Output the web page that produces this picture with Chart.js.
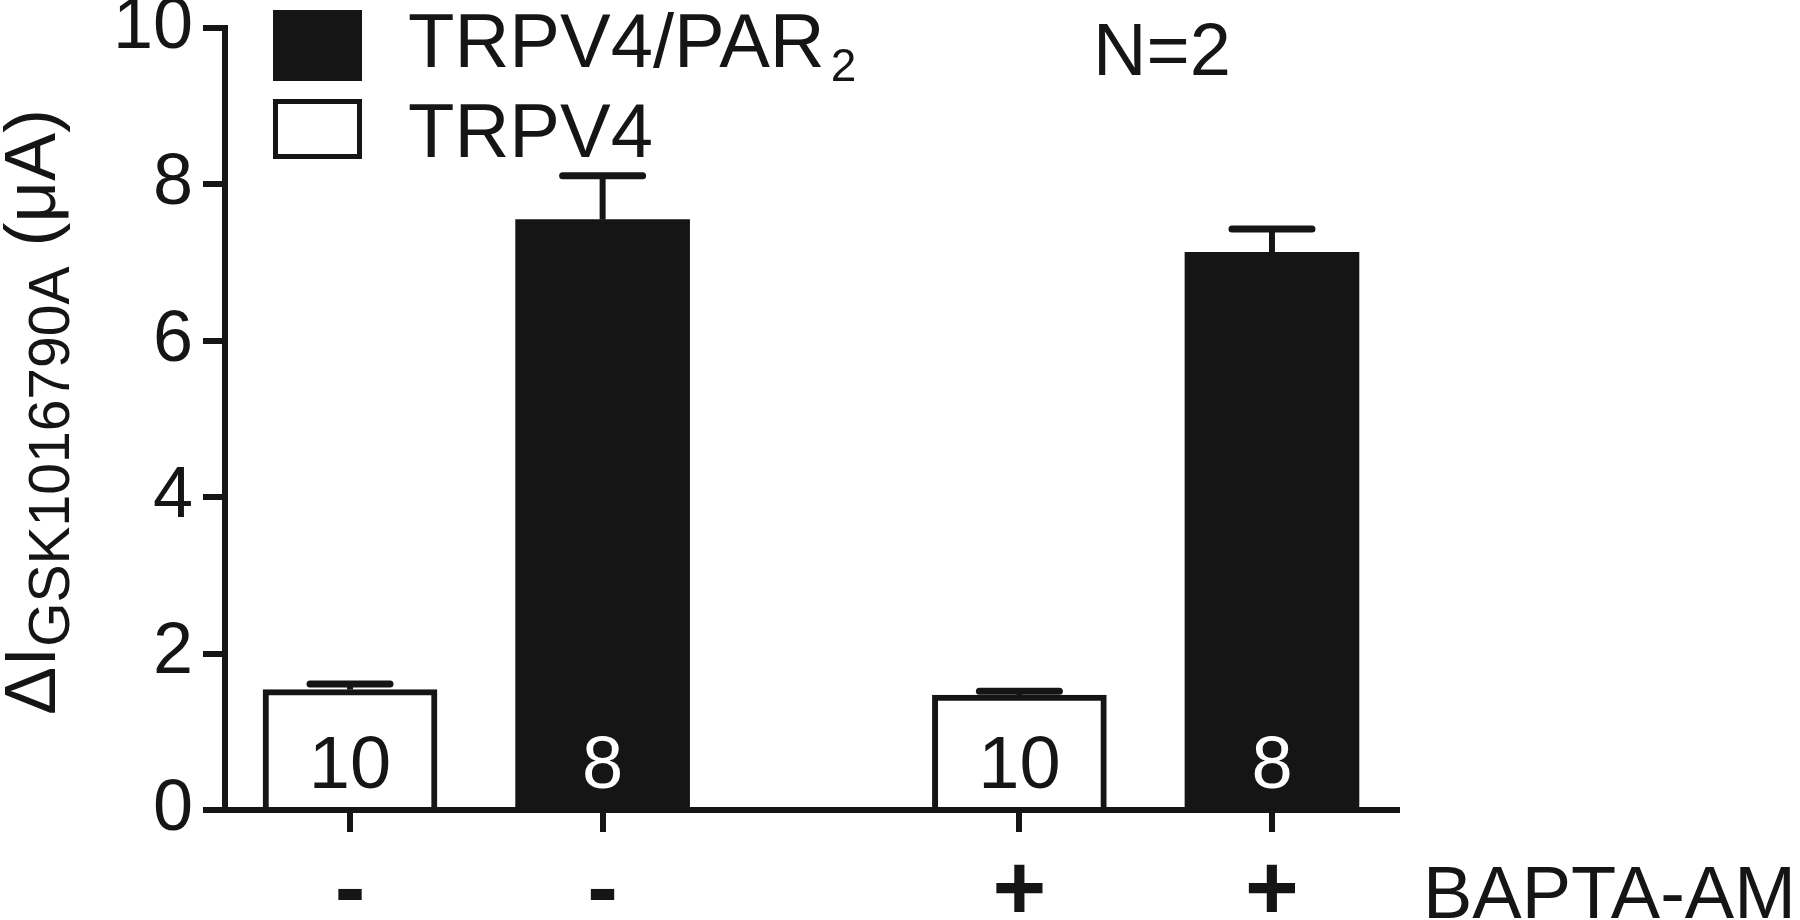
<!DOCTYPE html>
<html><head><meta charset="utf-8">
<script src="https://cdn.jsdelivr.net/npm/chart.js@4/dist/chart.umd.min.js"></script>
<style>html,body{margin:0;padding:0;background:#fff;}#wrap{width:1800px;height:920px;position:relative;}</style>
</head><body><div id="wrap"><canvas id="c" width="1800" height="920"></canvas></div>
<script>
// ---- data ----
const groups = ['-', '+'];                 // BAPTA-AM treatment
const seriesNames = ['TRPV4', 'TRPV4/PAR2'];
const trpv4Mean = [1.54, 1.47];
const trpv4Sem  = [0.07, 0.05];
const trpv4N    = [10, 10];
const par2Mean  = [7.55, 7.13];
const par2Sem   = [0.56, 0.30];
const par2N     = [8, 8];
const yTicks    = [0, 2, 4, 6, 8, 10];
const xTitle    = 'BAPTA-AM';
const yTitleMain = 'ΔI', yTitleSub = 'GSK1016790A', yTitleUnit = ' (μA)';
const noteText  = 'N=2';

// ---- layout helpers ----
const INK = '#151515';
const FONT = "'Liberation Sans', Arial, Helvetica, sans-serif";
const groupStep = 2.65;
const slot = (g, s) => 1 + s + g * groupStep;
const tickValues = [], tickLabels = [];
groups.forEach((g, gi) => { [0, 1].forEach(s => { tickValues.push(slot(gi, s)); tickLabels.push(g); }); });

const whiteData = trpv4Mean.map((v, i) => ({ x: slot(i, 0), y: v }));
const blackData = par2Mean.map((v, i) => ({ x: slot(i, 1), y: v }));

const overlay = {
  id: 'overlay',
  afterDatasetsDraw(chart) {
    const ctx = chart.ctx, ys = chart.scales.y;
    chart.data.datasets.forEach((ds, di) => {
      const meta = chart.getDatasetMeta(di);
      meta.data.forEach((bar, i) => {
        const top = ys.getPixelForValue(ds.data[i].y + ds.errors[i]);
        ctx.save();
        ctx.strokeStyle = INK;
        ctx.lineWidth = 6; ctx.lineCap = 'butt';
        ctx.beginPath(); ctx.moveTo(bar.x, bar.y); ctx.lineTo(bar.x, top); ctx.stroke();
        ctx.lineWidth = 7; ctx.lineCap = 'round';
        ctx.beginPath(); ctx.moveTo(bar.x - 40, top); ctx.lineTo(bar.x + 40, top); ctx.stroke();
        // n inside bar
        ctx.fillStyle = ds.labelColor;
        ctx.font = '74px ' + FONT;
        ctx.textAlign = 'center'; ctx.textBaseline = 'alphabetic';
        ctx.fillText(String(ds.counts[i]), bar.x, ys.getPixelForValue(0) - 22);
        ctx.restore();
      });
    });
  },
  afterDraw(chart) {
    const ctx = chart.ctx;
    ctx.save();
    ctx.fillStyle = INK; ctx.strokeStyle = INK;
    // legend
    ctx.fillRect(273, 10, 89, 71);
    ctx.lineWidth = 5;
    ctx.strokeRect(275.5, 101.5, 84, 55);
    ctx.textAlign = 'left'; ctx.textBaseline = 'alphabetic';
    const m = /^(.*PAR)(\d)$/.exec(seriesNames[1]);
    ctx.font = '76px ' + FONT;
    ctx.fillText(m[1], 408, 67);
    const w = ctx.measureText(m[1]).width;
    ctx.font = '46px ' + FONT;
    ctx.fillText(m[2], 408 + w + 6, 81);
    ctx.font = '76px ' + FONT;
    ctx.fillText(seriesNames[0], 408, 157);
    // note
    ctx.font = '74px ' + FONT;
    ctx.fillText(noteText, 1093, 75);
    // x title
    ctx.fillText(xTitle, 1423, 918);
    // y title (rotated, with subscript)
    const mainF = '72px ' + FONT, subF = '57px ' + FONT;
    ctx.font = mainF; const w1 = ctx.measureText(yTitleMain).width, w3 = ctx.measureText(yTitleUnit).width;
    ctx.font = subF; const w2 = ctx.measureText(yTitleSub).width;
    const total = w1 + w2 + w3;
    ctx.translate(55, 412); ctx.rotate(-Math.PI / 2);
    let x = -total / 2;
    ctx.font = mainF; ctx.fillText(yTitleMain, x, 0); x += w1;
    ctx.font = subF; ctx.fillText(yTitleSub, x, 14); x += w2;
    ctx.font = mainF; ctx.fillText(yTitleUnit, x, 0);
    ctx.restore();
  }
};

new Chart(document.getElementById('c'), {
  type: 'bar',
  data: {
    datasets: [
      { label: seriesNames[0], data: whiteData, errors: trpv4Sem, counts: trpv4N, labelColor: INK,
        backgroundColor: '#ffffff', borderColor: INK, borderWidth: 6, borderSkipped: 'start' },
      { label: seriesNames[1], data: blackData, errors: par2Sem, counts: par2N, labelColor: '#ffffff',
        backgroundColor: INK, borderColor: INK, borderWidth: 0 }
    ]
  },
  options: {
    responsive: false, animation: false, maintainAspectRatio: false,
    grouped: false, barThickness: 174,
    layout: { padding: { top: 28, right: 403, bottom: 0, left: 0 } },
    plugins: { legend: { display: false }, tooltip: { enabled: false } },
    scales: {
      x: {
        type: 'linear', min: 0.505, max: 5.145, z: 1, offset: false,
        afterBuildTicks: s => { s.ticks = tickValues.map(v => ({ value: v })); },
        afterFit: s => { s.height = 110; s.paddingLeft = 0; s.paddingRight = 0; },
        ticks: { autoSkip: false, maxRotation: 0, padding: 16, color: INK,
          font: { family: FONT, size: 92, weight: 'bold', lineHeight: 1 },
          callback: (v, i) => tickLabels[i] },
        grid: { offset: false, drawOnChartArea: false, drawTicks: true, tickLength: 22, tickWidth: 6, color: INK, lineWidth: 6 },
        border: { display: true, color: INK, width: 6 }
      },
      y: {
        min: 0, max: 10, z: 1,
        afterBuildTicks: s => { s.ticks = yTicks.map(v => ({ value: v })); },
        afterFit: s => { s.width = 225; s.paddingTop = 0; s.paddingBottom = 0; },
        ticks: { padding: 10, color: INK, font: { family: FONT, size: 72, lineHeight: 1 } },
        grid: { drawOnChartArea: false, drawTicks: true, tickLength: 22, tickWidth: 6, color: INK, lineWidth: 6 },
        border: { display: true, color: INK, width: 6 }
      }
    }
  },
  plugins: [overlay]
});
</script></body></html>
